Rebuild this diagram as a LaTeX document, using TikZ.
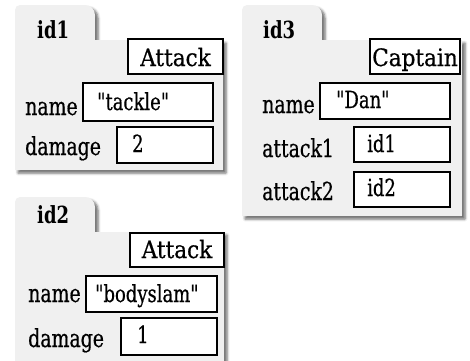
\documentclass[tikz,border=0pt]{standalone}
\usepackage{fontspec}
\setmainfont{DejaVu Serif Condensed}[Ligatures=TeXOff]
\newfontfamily\labelfont{DejaVu Serif Condensed}[Ligatures=TeXOff, FakeBold=0.6]
\usetikzlibrary{shadows.blur}

\definecolor{panelgray}{HTML}{F0F0F0}

\tikzset{
  panel/.style={fill=panelgray, draw=none,
    blur shadow={shadow xshift=3pt, shadow yshift=-3pt,
                 shadow blur radius=2.5pt, shadow opacity=60}},
  field/.style={draw=black, line width=1.2pt, fill=white},
  tallfont/.style={yscale=1.18, transform shape},
  lbl/.style={tallfont, anchor=base west, inner sep=0pt, font=\labelfont\fontsize{21}{23}\selectfont},
  vallbl/.style={tallfont, anchor=base west, inner sep=0pt, font=\labelfont\fontsize{20}{22}\selectfont},
  idlbl/.style={tallfont, anchor=base west, inner sep=0pt, font=\bfseries\fontsize{20}{22}\selectfont},
  typelbl/.style={anchor=base, inner sep=0pt, font=\labelfont\fontsize{24}{26}\selectfont},
}

% object panel: left, tab top, tab right, step, right, bottom
\newcommand\objpanel[6]{%
  \path[panel] (#1,#6) -- (#1,#2+5) arc[start angle=180, end angle=90, radius=5pt]
    -- (#3-10,#2) arc[start angle=90, end angle=0, radius=10pt]
    -- (#3,#4) -- (#5,#4) -- (#5,#6) -- cycle;}

\begin{document}
\begin{tikzpicture}[x=1pt, y=-1pt]
\useasboundingbox (0,0) rectangle (470,360);

% ---------- id1 : Attack ----------
\objpanel{15}{5}{95}{40}{223}{170}
\node[idlbl] (id1lbl) at (37,38) {id1};
\draw[field] (128,39) rectangle (223,74);
\node[typelbl] (id1type) at (175.5,66) {Attack};
\node[lbl] (id1name) at (25,115) {name};
\draw[field] (83,83) rectangle (213,121);
\node[vallbl] (id1nameval) at (97,110) {"tackle"};
\node[lbl] (id1dmg) at (25,155) {damage};
\draw[field] (117,127) rectangle (213,163);
\node[vallbl] (id1dmgval) at (132,152) {2};

% ---------- id3 : Captain ----------
\objpanel{242}{5}{322}{40}{462}{216}
\node[idlbl] (id3lbl) at (263,38) {id3};
\draw[field] (370,39) rectangle (460,74);
\node[typelbl] (id3type) at (415,66) {Captain};
\node[lbl] (id3name) at (262,113) {name};
\draw[field] (320,83) rectangle (450,119);
\node[vallbl] (id3nameval) at (336,108) {"Dan"};
\node[lbl] (id3a1) at (262,157) {attack1};
\draw[field] (354,127) rectangle (450,162);
\node[vallbl] (id3a1val) at (367,152) {id1};
\node[lbl] (id3a2) at (262,200) {attack2};
\draw[field] (354,172) rectangle (450,207);
\node[vallbl] (id3a2val) at (367,196) {id2};

% ---------- id2 : Attack ----------
\objpanel{15}{197}{95}{232}{224}{370}
\node[idlbl] (id2lbl) at (37,223) {id2};
\draw[field] (130,233) rectangle (224,267);
\node[typelbl] (id2type) at (177,258) {Attack};
\node[lbl] (id2name) at (28,302) {name};
\draw[field] (86,276) rectangle (217,312);
\node[vallbl] (id2nameval) at (95,302) {"bodyslam"};
\node[lbl] (id2dmg) at (28,347) {damage};
\draw[field] (121,318) rectangle (217,355);
\node[vallbl] (id2dmgval) at (137,343) {1};
\end{tikzpicture}
\end{document}
